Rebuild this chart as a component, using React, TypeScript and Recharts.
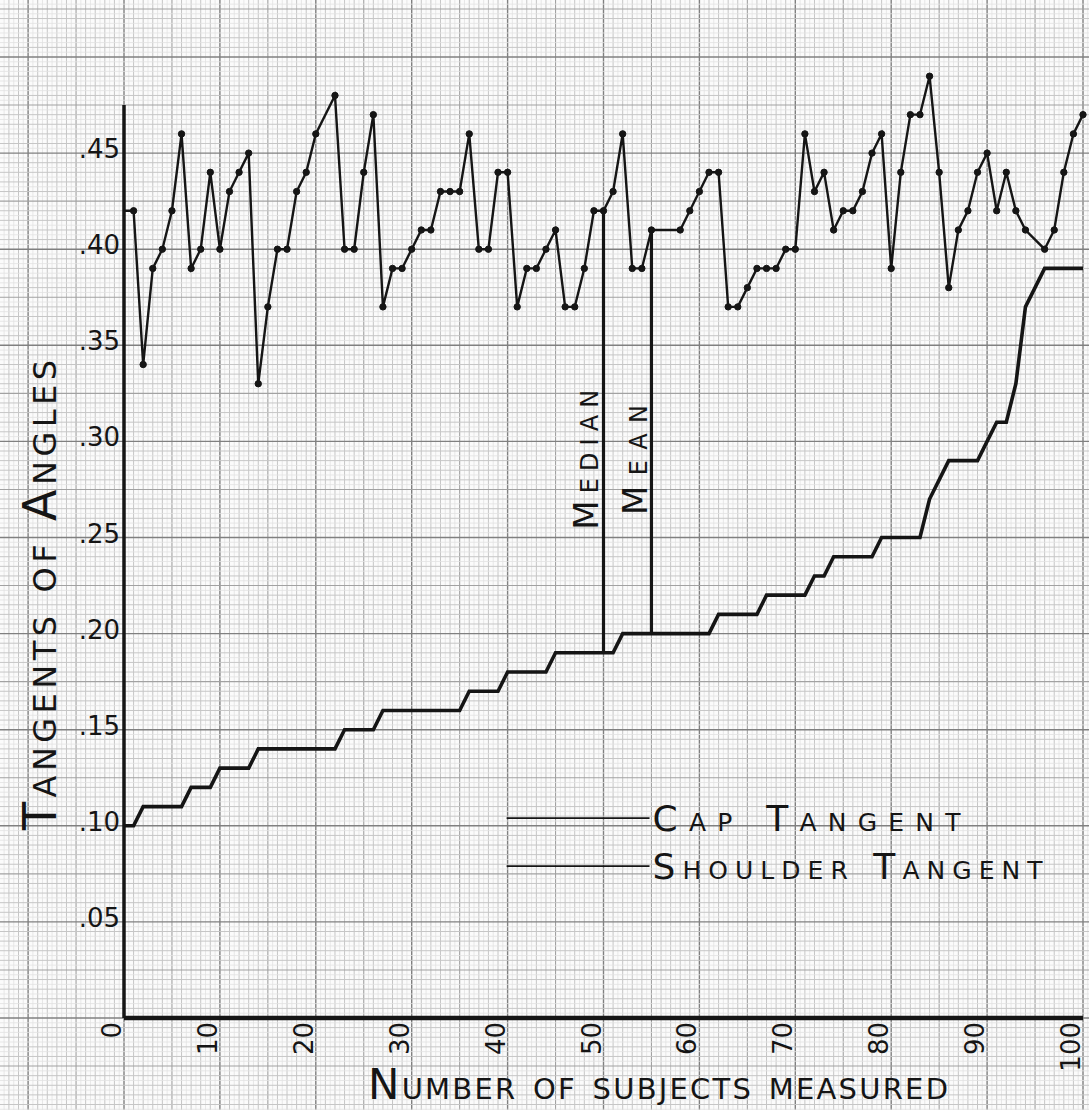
import React from 'react';
import { LineChart, Line, XAxis, YAxis, ReferenceLine, Label } from 'recharts';

// subject number along the bottom; 0 is where the pen starts on the axis
const subjects = Array.from({ length: 101 }, (_, i) => i);

// upper, jagged line (dots), one reading per subject; null = no dot drawn there
const capTangent = [
  0.42, 0.42, 0.34, 0.39, 0.4, 0.42, 0.46, 0.39, 0.4, 0.44,
  0.4, 0.43, 0.44, 0.45, 0.33, 0.37, 0.4, 0.4, 0.43, 0.44,
  0.46, null, 0.48, 0.4, 0.4, 0.44, 0.47, 0.37, 0.39, 0.39,
  0.4, 0.41, 0.41, 0.43, 0.43, 0.43, 0.46, 0.4, 0.4, 0.44,
  0.44, 0.37, 0.39, 0.39, 0.4, 0.41, 0.37, 0.37, 0.39, 0.42,
  0.42, 0.43, 0.46, 0.39, 0.39, 0.41, null, null, 0.41, 0.42,
  0.43, 0.44, 0.44, 0.37, 0.37, 0.38, 0.39, 0.39, 0.39, 0.4,
  0.4, 0.46, 0.43, 0.44, 0.41, 0.42, 0.42, 0.43, 0.45, 0.46,
  0.39, 0.44, 0.47, 0.47, 0.49, 0.44, 0.38, 0.41, 0.42, 0.44,
  0.45, 0.42, 0.44, 0.42, 0.41, null, 0.4, 0.41, 0.44, 0.46,
  0.47,
];

// lower staircase (sorted)
const shoulderTangent = [
  0.1, 0.1, 0.11, 0.11, 0.11, 0.11, 0.11, 0.12, 0.12, 0.12,
  0.13, 0.13, 0.13, 0.13, 0.14, 0.14, 0.14, 0.14, 0.14, 0.14,
  0.14, 0.14, 0.14, 0.15, 0.15, 0.15, 0.15, 0.16, 0.16, 0.16,
  0.16, 0.16, 0.16, 0.16, 0.16, 0.16, 0.17, 0.17, 0.17, 0.17,
  0.18, 0.18, 0.18, 0.18, 0.18, 0.19, 0.19, 0.19, 0.19, 0.19,
  0.19, 0.19, 0.2, 0.2, 0.2, 0.2, 0.2, 0.2, 0.2, 0.2,
  0.2, 0.2, 0.21, 0.21, 0.21, 0.21, 0.21, 0.22, 0.22, 0.22,
  0.22, 0.22, 0.23, 0.23, 0.24, 0.24, 0.24, 0.24, 0.24, 0.25,
  0.25, 0.25, 0.25, 0.25, 0.27, 0.28, 0.29, 0.29, 0.29, 0.29,
  0.3, 0.31, 0.31, 0.33, 0.37, 0.38, 0.39, 0.39, 0.39, 0.39,
  0.39,
];

const xTicks = [0, 10, 20, 30, 40, 50, 60, 70, 80, 90, 100];
const yTicks = [0.05, 0.1, 0.15, 0.2, 0.25, 0.3, 0.35, 0.4, 0.45];

const MEDIAN_SUBJECT = 50;
const MEAN_SUBJECT = 55;

const legendItems = [
  { name: 'Cap Tangent', level: 0.104 },
  { name: 'Shoulder Tangent', level: 0.079 },
];

const data = subjects.map((n, i) => ({
  n,
  cap: capTangent[i],
  shoulder: shoulderTangent[i],
}));

// graph paper: half-unit sub squares, unit squares, fives, tens
const paperX: number[] = [];
for (let k = -28; k <= 204; k++) paperX.push(k / 2);
const paperY: number[] = [];
for (let k = -24; k <= 216; k++) paperY.push(k);

const INK = '#151515';
const FONT = '"DejaVu Sans", sans-serif';

const paperStyle = (level: number) => {
  if (level === 3) return { stroke: '#808080', strokeWidth: 1.4 };
  if (level === 2) return { stroke: '#a2a2a2', strokeWidth: 1.1 };
  if (level === 1) return { stroke: '#c6c6c6', strokeWidth: 1 };
  return { stroke: '#e2e2e2', strokeWidth: 0.8 };
};

const xLevel = (v: number) =>
  v % 10 === 0 ? 3 : v % 5 === 0 ? 2 : Number.isInteger(v) ? 1 : 0;
const yLevel = (k: number) =>
  k % 20 === 0 ? 3 : k % 10 === 0 ? 2 : k % 2 === 0 ? 1 : 0;

const Lettering = ({ x, y, size, length, rotate = false, children }: any) => (
  <text
    x={x}
    y={y}
    fontSize={size}
    fontFamily={FONT}
    fill={INK}
    textLength={length}
    lengthAdjust="spacing"
    style={{ fontVariant: 'small-caps' }}
    transform={rotate ? `rotate(-90 ${x} ${y})` : undefined}
  >
    {children}
  </text>
);

const XTick = ({ x, y, payload }: any) => (
  <text
    x={x - 3}
    y={y + 4}
    transform={`rotate(-90 ${x - 3} ${y + 4})`}
    textAnchor="end"
    fontSize={26}
    fontFamily={FONT}
    fill={INK}
  >
    {payload.value}
  </text>
);

const YTick = ({ x, y, payload }: any) => (
  <text x={x - 4} y={y + 5} textAnchor="end" fontSize={26} fontFamily={FONT} fill={INK}>
    {payload.value.toFixed(2).replace(/^0/, '')}
  </text>
);

// the pen starts on the axis, no dot there
const CapDot = ({ cx, cy, index }: any) =>
  index === 0 || cy == null ? (
    <g key={`d${index}`} />
  ) : (
    <circle key={`d${index}`} cx={cx} cy={cy} r={3.2} fill={INK} stroke={INK} strokeWidth={1} />
  );

export default function App() {
  return (
    <div style={{ position: 'absolute', left: 0, top: 0, width: 1089, height: 1110, background: '#fbfbfb' }}>
      <LineChart
        width={1089}
        height={1110}
        data={data}
        margin={{ top: 57, right: 6, bottom: 0, left: 0 }}
      >
        {paperX.map((v) => (
          <ReferenceLine
            key={`px${v}`}
            segment={[{ x: v, y: -0.06 }, { x: v, y: 0.54 }]}
            ifOverflow="visible"
            zIndex={-100}
            {...paperStyle(xLevel(v))}
          />
        ))}
        {paperY.map((k) => (
          <ReferenceLine
            key={`py${k}`}
            segment={[{ x: -14, y: k * 0.0025 }, { x: 102, y: k * 0.0025 }]}
            ifOverflow="visible"
            zIndex={-100}
            {...paperStyle(yLevel(k))}
          />
        ))}

        <XAxis
          dataKey="n"
          type="number"
          domain={[0, 100]}
          ticks={xTicks}
          interval={0}
          axisLine={false}
          tickLine={false}
          tickSize={0}
          tickMargin={0}
          height={92}
          tick={<XTick />}
        >
          <Label
            content={({ viewBox }: any) => (
              <Lettering x={viewBox.x + 244} y={viewBox.y + 81} size={42} length={580}>
                Number of subjects measured
              </Lettering>
            )}
          />
        </XAxis>
        <YAxis
          type="number"
          domain={[0, 0.5]}
          ticks={yTicks}
          interval={0}
          axisLine={false}
          tickLine={false}
          tickSize={0}
          tickMargin={0}
          width={124}
          tick={<YTick />}
        >
          <Label
            content={({ viewBox }: any) => (
              <Lettering x={viewBox.x + 56} y={viewBox.y + 773} size={46} length={470} rotate>
                Tangents of Angles
              </Lettering>
            )}
          />
        </YAxis>

        <Line
          dataKey="shoulder"
          type="linear"
          stroke={INK}
          strokeWidth={3.6}
          dot={false}
          activeDot={false}
          isAnimationActive={false}
        />
        <Line
          dataKey="cap"
          type="linear"
          stroke={INK}
          strokeWidth={2.4}
          connectNulls
          dot={<CapDot />}
          activeDot={false}
          isAnimationActive={false}
        />

        {/* axes drawn in ink on the paper */}
        <ReferenceLine segment={[{ x: 0, y: 0 }, { x: 0, y: 0.475 }]} stroke={INK} strokeWidth={3.5} ifOverflow="visible" />
        <ReferenceLine segment={[{ x: 0, y: 0 }, { x: 100, y: 0 }]} stroke={INK} strokeWidth={4.5} ifOverflow="visible" />

        <ReferenceLine
          segment={[
            { x: MEDIAN_SUBJECT, y: shoulderTangent[MEDIAN_SUBJECT] },
            { x: MEDIAN_SUBJECT, y: capTangent[MEDIAN_SUBJECT] as number },
          ]}
          stroke={INK}
          strokeWidth={3.2}
          ifOverflow="visible"
          label={({ viewBox }: any) => (
            <Lettering x={viewBox.x - 5} y={viewBox.y + 319} size={34} length={140} rotate>
              Median
            </Lettering>
          )}
        />
        <ReferenceLine
          segment={[
            { x: MEAN_SUBJECT, y: shoulderTangent[MEAN_SUBJECT] },
            { x: MEAN_SUBJECT, y: capTangent[MEAN_SUBJECT] as number },
          ]}
          stroke={INK}
          strokeWidth={3.2}
          ifOverflow="visible"
          label={({ viewBox }: any) => (
            <Lettering x={viewBox.x - 4} y={viewBox.y + 285} size={34} length={110} rotate>
              Mean
            </Lettering>
          )}
        />

        {legendItems.map((item) => (
          <ReferenceLine
            key={item.name}
            segment={[{ x: 39.9, y: item.level }, { x: 54.8, y: item.level }]}
            stroke={INK}
            strokeWidth={1.6}
            ifOverflow="visible"
            label={({ viewBox }: any) => (
              <Lettering
                x={viewBox.x + viewBox.width + 3}
                y={viewBox.y + 13}
                size={36}
                length={item.name === 'Cap Tangent' ? 308 : 390}
              >
                {item.name}
              </Lettering>
            )}
          />
        ))}
      </LineChart>
    </div>
  );
}
